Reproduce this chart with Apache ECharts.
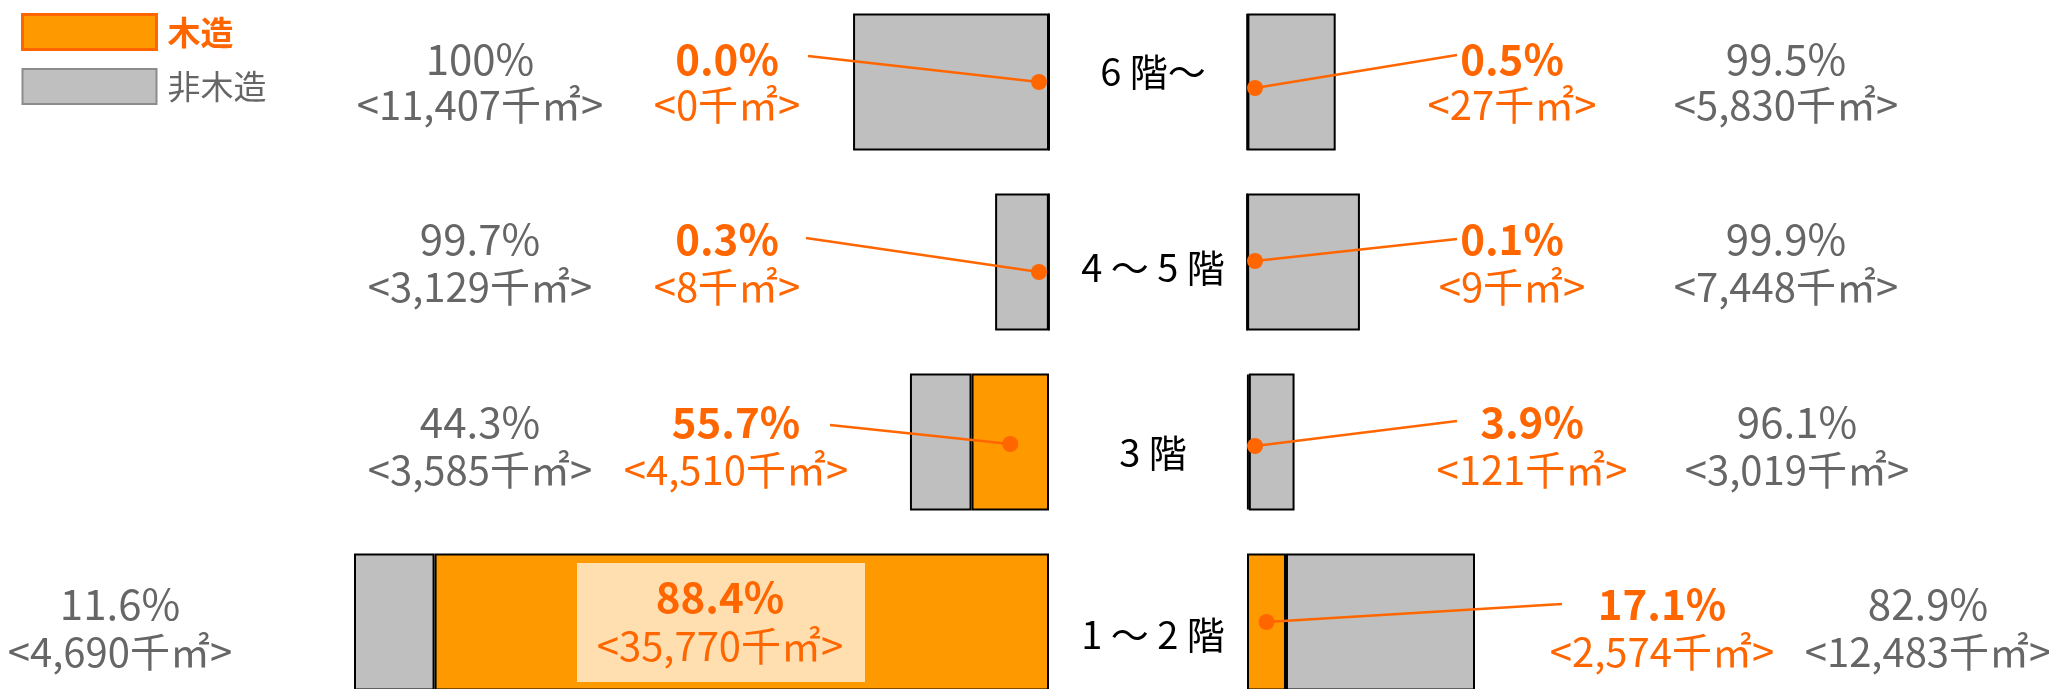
<!DOCTYPE html>
<html>
<head>
<meta charset="utf-8">
<script src="https://cdn.jsdelivr.net/npm/echarts@6/dist/echarts.min.js"></script>
<style>
  html, body { margin: 0; padding: 0; background: #ffffff; }
  #chart { width: 2049px; height: 689px; }
</style>
</head>
<body>
<div id="chart"></div>
<script>
// ---------------- data ----------------
const floors = ['6 階〜', '4 ～ 5 階', '3 階', '1 ～ 2 階'];
const leftWood = [0, 8, 4510, 35770];
const leftNonWood = [11407, 3129, 3585, 4690];
const leftWoodPct = ['0.0%', '0.3%', '55.7%', '88.4%'];
const leftNonWoodPct = ['100%', '99.7%', '44.3%', '11.6%'];
const rightWood = [27, 9, 121, 2574];
const rightNonWood = [5830, 7448, 3019, 12483];
const rightWoodPct = ['0.5%', '0.1%', '3.9%', '17.1%'];
const rightNonWoodPct = ['99.5%', '99.9%', '96.1%', '82.9%'];
const seriesNames = ['木造', '非木造'];
const unit = '千㎡';

// ---------------- styles / layout ----------------
const FONT = '"Noto Sans CJK JP", "Noto Sans", sans-serif';
const WOOD = '#FF9900', NONWOOD = '#BFBFBF';
const ORANGE_TXT = '#FF6600', GRAY_TXT = '#666666';
const PCT_SIZE = 42, VAL_SIZE = 40;

const fmt = v => '<' + v.toLocaleString('en-US') + unit + '>';

const chart = echarts.init(document.getElementById('chart'), null, { renderer: 'canvas' });

const barStyle = c => ({ color: c, borderColor: '#000', borderWidth: 2 });
const leftMax = leftWood[3] + leftNonWood[3];
const rightMax = rightWood[3] + rightNonWood[3];

chart.setOption({
  animation: false,
  backgroundColor: '#ffffff',
  legend: {
    left: 21, top: 13, orient: 'vertical', padding: 0,
    itemWidth: 134, itemHeight: 35, itemGap: 17,
    selectedMode: false, icon: 'rect',
    textStyle: { fontSize: 33, fontFamily: FONT, padding: [0, 0, 0, 6] },
    data: [
      { name: seriesNames[0], itemStyle: { color: WOOD, borderColor: '#FF6600', borderWidth: 3 },
        textStyle: { color: ORANGE_TXT, fontWeight: 'bold' } },
      { name: seriesNames[1], itemStyle: { color: NONWOOD, borderColor: '#8C8C8C', borderWidth: 2 },
        textStyle: { color: GRAY_TXT } }
    ]
  },
  grid: [
    { left: 354, right: 1000, top: -8, height: 720, outerBoundsMode: 'none' },
    { left: 1247, width: 228, top: -8, height: 720, outerBoundsMode: 'none' }
  ],
  xAxis: [
    { type: 'value', gridIndex: 0, inverse: true, min: 0, max: leftMax, show: false },
    { type: 'value', gridIndex: 1, min: 0, max: rightMax, show: false }
  ],
  yAxis: [
    { type: 'category', gridIndex: 0, data: floors, inverse: true, show: false },
    { type: 'category', gridIndex: 1, data: floors, inverse: true, show: false }
  ],
  series: [
    { name: seriesNames[0], type: 'bar', xAxisIndex: 0, yAxisIndex: 0, stack: 'L', barWidth: 137,
      data: leftWood, itemStyle: barStyle(WOOD) },
    { name: seriesNames[1], type: 'bar', xAxisIndex: 0, yAxisIndex: 0, stack: 'L', barWidth: 137,
      data: leftNonWood, itemStyle: barStyle(NONWOOD) },
    { name: seriesNames[0], type: 'bar', xAxisIndex: 1, yAxisIndex: 1, stack: 'R', barWidth: 137,
      data: rightWood, itemStyle: barStyle(WOOD) },
    { name: seriesNames[1], type: 'bar', xAxisIndex: 1, yAxisIndex: 1, stack: 'R', barWidth: 137,
      data: rightNonWood, itemStyle: barStyle(NONWOOD) }
  ]
});

// ---------------- annotations (layout) ----------------
const leftNonWoodX = [480, 480, 480, 120];
const leftWoodX = [727, 727, 736, 720];
const rightWoodX = [1512, 1512, 1532, 1662];
const rightNonWoodX = [1786, 1786, 1797, 1928];
const pctDy = [-23, -23, -20, -18];
const valDy = [23, 25, 28, 30];
const catX = 1153, catDy = [-10, 6, 11, 13];
const leftLineStart = [[808, 56], [806, 238], [830, 425], null];
const rightLineStart = [[1457, 55], [1457, 239], [1457, 421], [1562, 604]];
const leftDotDy = [0, 10, 2, 0];
const rightDotDy = [6, -1, 4, 0];

const g = [];
function txt(text, x, y, color, size, bold) {
  g.push({ type: 'text', silent: true, z: 100,
    style: { text, x, y, fill: color, fontSize: size, fontFamily: FONT,
             fontWeight: bold ? 'bold' : 'normal', align: 'center', verticalAlign: 'middle' } });
}

floors.forEach((f, i) => {
  const yc = chart.convertToPixel({ yAxisIndex: 0 }, f);
  const lEdge = chart.convertToPixel({ xAxisIndex: 0 }, 0);
  const rEdge = chart.convertToPixel({ xAxisIndex: 1 }, 0);

  // category label
  txt(f, catX, yc + catDy[i], '#000000', 38, false);

  // left side texts
  txt(leftNonWoodPct[i], leftNonWoodX[i], yc + pctDy[i], GRAY_TXT, PCT_SIZE, false);
  txt(fmt(leftNonWood[i]), leftNonWoodX[i], yc + valDy[i], GRAY_TXT, VAL_SIZE, false);
  if (i === 3) {
    g.push({ type: 'rect', silent: true, z: 90,
      shape: { x: 577, y: yc - 59, width: 288, height: 119 },
      style: { fill: '#FFDFAF' } });
    txt(leftWoodPct[i], leftWoodX[i], yc - 25, ORANGE_TXT, PCT_SIZE, true);
    txt(fmt(leftWood[i]), leftWoodX[i], yc + 24, ORANGE_TXT, VAL_SIZE, false);
  } else {
    txt(leftWoodPct[i], leftWoodX[i], yc + pctDy[i], ORANGE_TXT, PCT_SIZE, true);
    txt(fmt(leftWood[i]), leftWoodX[i], yc + valDy[i], ORANGE_TXT, VAL_SIZE, false);
    const cx = Math.min(chart.convertToPixel({ xAxisIndex: 0 }, leftWood[i] / 2), lEdge - 10);
    const cy = yc + leftDotDy[i];
    g.push({ type: 'line', silent: true, z: 95,
      shape: { x1: leftLineStart[i][0], y1: leftLineStart[i][1], x2: cx, y2: cy },
      style: { stroke: '#FF6600', lineWidth: 2.5 } });
    g.push({ type: 'circle', silent: true, z: 96,
      shape: { cx, cy, r: 8 }, style: { fill: '#FF6600' } });
  }

  // right side texts
  txt(rightWoodPct[i], rightWoodX[i], yc + pctDy[i], ORANGE_TXT, PCT_SIZE, true);
  txt(fmt(rightWood[i]), rightWoodX[i], yc + valDy[i], ORANGE_TXT, VAL_SIZE, false);
  txt(rightNonWoodPct[i], rightNonWoodX[i], yc + pctDy[i], GRAY_TXT, PCT_SIZE, false);
  txt(fmt(rightNonWood[i]), rightNonWoodX[i], yc + valDy[i], GRAY_TXT, VAL_SIZE, false);
  const rx = Math.max(chart.convertToPixel({ xAxisIndex: 1 }, rightWood[i] / 2), rEdge + 8);
  const ry = yc + rightDotDy[i];
  g.push({ type: 'line', silent: true, z: 95,
    shape: { x1: rightLineStart[i][0], y1: rightLineStart[i][1], x2: rx, y2: ry },
    style: { stroke: '#FF6600', lineWidth: 2.5 } });
  g.push({ type: 'circle', silent: true, z: 96,
    shape: { cx: rx, cy: ry, r: 8 }, style: { fill: '#FF6600' } });
});

chart.setOption({ graphic: g });
</script>
</body>
</html>
